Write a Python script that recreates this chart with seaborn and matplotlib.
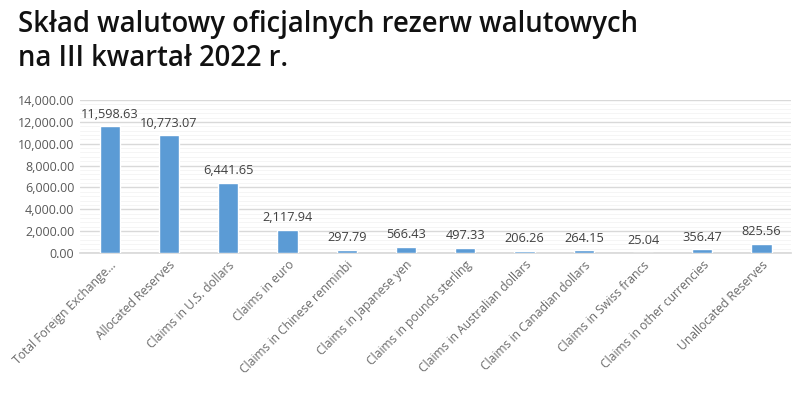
import matplotlib
matplotlib.use('Agg')
import matplotlib.pyplot as plt
import seaborn as sns
import pandas as pd
import numpy as np

# Dane
kategorie = ['Total Foreign Exchange...', 'Allocated Reserves', 'Claims in U.S. dollars',
             'Claims in euro', 'Claims in Chinese renminbi', 'Claims in Japanese yen',
             'Claims in pounds sterling', 'Claims in Australian dollars',
             'Claims in Canadian dollars', 'Claims in Swiss francs',
             'Claims in other currencies', 'Unallocated Reserves']
wartosci = [11598.63, 10773.07, 6441.65, 2117.94, 297.79, 566.43,
            497.33, 206.26, 264.15, 25.04, 356.47, 825.56]
y_ticks = [0, 2000, 4000, 6000, 8000, 10000, 12000, 14000]

df = pd.DataFrame({'Kategoria': kategorie, 'Wartosc': wartosci})

sns.set_theme(style='white')
plt.rcParams['font.family'] = ['Open Sans', 'DejaVu Sans']

fig = plt.figure(figsize=(8, 3.94), dpi=100)
ax = fig.add_axes([0.1, 0.358, 0.889, 0.388])

sns.barplot(x='Kategoria', y='Wartosc', data=df, color='#5b9bd5', width=0.34, ax=ax,
            saturation=1, zorder=3)

ax.set_ylim(0, 14000)
ax.set_yticks(y_ticks)
ax.set_yticklabels([f'{v:,.2f}' for v in y_ticks], fontsize=9, color='#595959')
ax.set_yticks(np.arange(0, 14001, 400), minor=True)
ax.grid(axis='y', which='major', color='#d9d9d9', linewidth=1, zorder=0)
ax.grid(axis='y', which='minor', color='#f4f4f4', linewidth=0.6, zorder=0)
ax.tick_params(axis='both', which='both', length=0, pad=4)
ax.set_xlabel('')
ax.set_ylabel('')
for s in ['top', 'right', 'left']:
    ax.spines[s].set_visible(False)
ax.spines['bottom'].set_color('#d9d9d9')

ax.set_xticks(range(len(kategorie)))
ax.set_xticklabels(kategorie, rotation=45, ha='right', rotation_mode='anchor',
                   fontsize=8.7, color='#6b6b6b')

# Etykiety nad słupkami
for i, v in enumerate(wartosci):
    ax.text(i, v + 500, f'{v:,.2f}', ha='center', va='bottom', fontsize=9.2, color='#404040')

fig.text(0.022, 0.975, 'Skład walutowy oficjalnych rezerw walutowych\nna III kwartał 2022 r.',
         ha='left', va='top', fontsize=19.8, fontweight='semibold', color='#111111',
         linespacing=1.25)

fig.savefig('out.png', dpi=100, facecolor='white')
